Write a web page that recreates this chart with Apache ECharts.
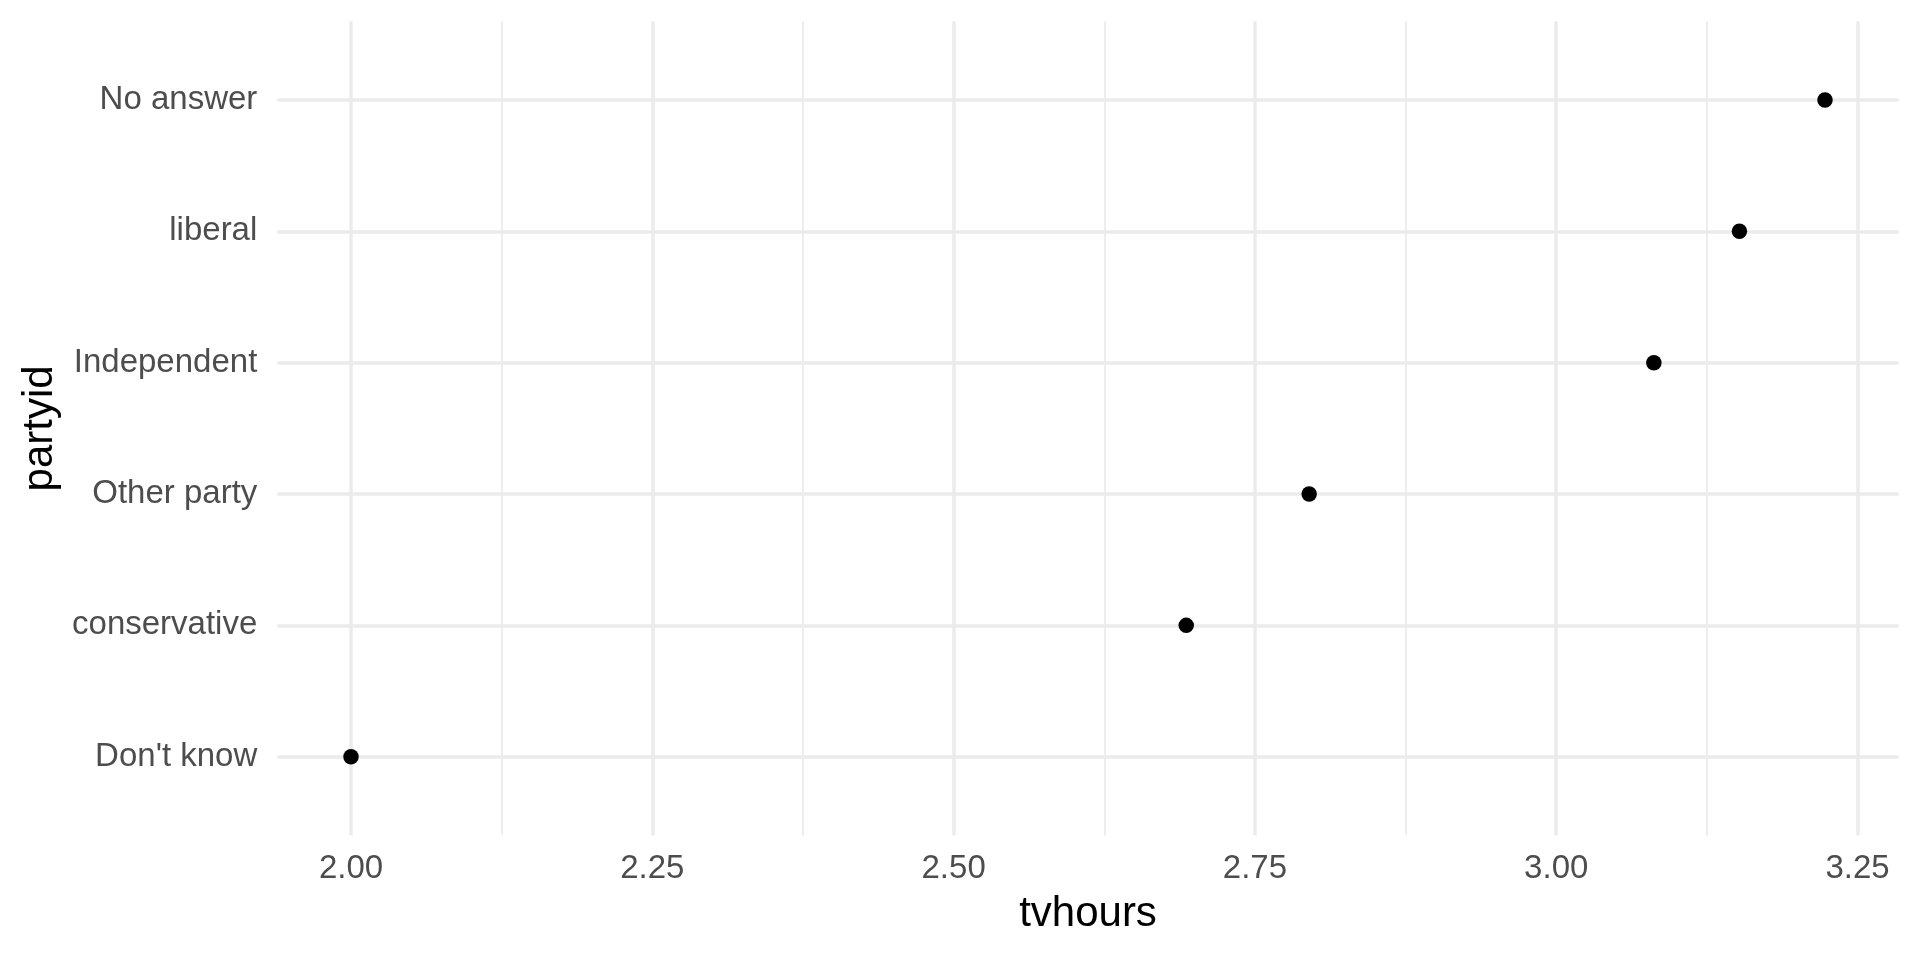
<!DOCTYPE html>
<html>
<head>
<meta charset="utf-8">
<script src="https://cdn.jsdelivr.net/npm/echarts@6/dist/echarts.min.js"></script>
<style>
html,body{margin:0;padding:0;background:#fff;}
#main{width:1920px;height:960px;}
</style>
</head>
<body>
<div id="main"></div>
<script>
// ---- data ----
const categories = ["Don't know", "conservative", "Other party", "Independent", "liberal", "No answer"];
const tvhours = [2.000, 2.693, 2.795, 3.081, 3.152, 3.223];
const xBreaks = { min: 2.0, max: 3.25, step: 0.25 };
const xTitle = "tvhours";
const yTitle = "partyid";

// ---- layout (ggplot-like panel with 5% / 0.6-unit expansion) ----
const W = 1920, H = 960;
const panelLeft = 277.3, panelRight = 1898.7, panelTop = 21.2, panelBottom = 835.5;
const dmin = Math.min(...tvhours), dmax = Math.max(...tvhours);
const ex = (dmax - dmin) * 0.05;
const XMIN = dmin - ex, XMAX = dmax + ex;
const ppu = (panelRight - panelLeft) / (XMAX - XMIN);
const band = (panelBottom - panelTop) / (categories.length - 1 + 1.2);
const g1Left = panelLeft + (xBreaks.min - XMIN) * ppu;
const g1Right = panelLeft + (xBreaks.max - XMIN) * ppu;

const FONT = "Liberation Sans, Arial, sans-serif";
const GRID = '#EBEBEB';

const chart = echarts.init(document.getElementById('main'), null, { renderer: 'canvas' });
chart.setOption({
  backgroundColor: '#ffffff',
  animation: false,
  grid: [
    { // data panel
      left: panelLeft, right: W - panelRight,
      top: panelTop + 0.6 * band, bottom: H - (panelBottom - 0.6 * band),
      containLabel: false
    },
    { // x breaks panel
      left: g1Left, right: W - g1Right,
      top: panelTop, bottom: H - panelBottom,
      containLabel: false
    }
  ],
  xAxis: [
    {
      gridIndex: 0, type: 'value', min: XMIN, max: XMAX,
      axisLine: { show: false }, axisTick: { show: false },
      axisLabel: { show: false }, splitLine: { show: false },
      name: xTitle, nameLocation: 'middle', nameGap: 137,
      nameTextStyle: { fontFamily: FONT, fontSize: 42, color: '#000000' }
    },
    {
      gridIndex: 1, type: 'value', min: xBreaks.min, max: xBreaks.max, interval: xBreaks.step,
      axisLine: { show: false }, axisTick: { show: false },
      axisLabel: {
        fontFamily: FONT, fontSize: 33, color: '#4D4D4D', margin: 17,
        formatter: v => v.toFixed(2)
      },
      splitLine: { show: true, lineStyle: { color: GRID, width: 3.5 } },
      minorTick: { show: false, splitNumber: 2 },
      minorSplitLine: { show: true, lineStyle: { color: GRID, width: 1.8 } }
    }
  ],
  yAxis: [
    {
      gridIndex: 0, type: 'category', data: categories, boundaryGap: false,
      axisLine: { show: false }, axisTick: { show: false },
      axisLabel: {
        fontFamily: FONT, fontSize: 33, color: '#4D4D4D', margin: 20,
        padding: [4, 0, 0, 0]
      },
      splitLine: { show: true, lineStyle: { color: GRID, width: 3.5 } },
      name: yTitle, nameLocation: 'middle', nameGap: 207, nameRotate: 90,
      nameTextStyle: { fontFamily: FONT, fontSize: 42, color: '#000000' }
    },
    {
      gridIndex: 1, type: 'value', min: 0, max: 1,
      show: false, splitLine: { show: false }
    }
  ],
  series: [
    {
      type: 'scatter', xAxisIndex: 0, yAxisIndex: 0,
      data: tvhours.map((v, i) => [v, categories[i]]),
      symbol: 'circle', symbolSize: 15.5,
      itemStyle: { color: '#000000', opacity: 1 },
      z: 10
    }
  ]
});
</script>
</body>
</html>
